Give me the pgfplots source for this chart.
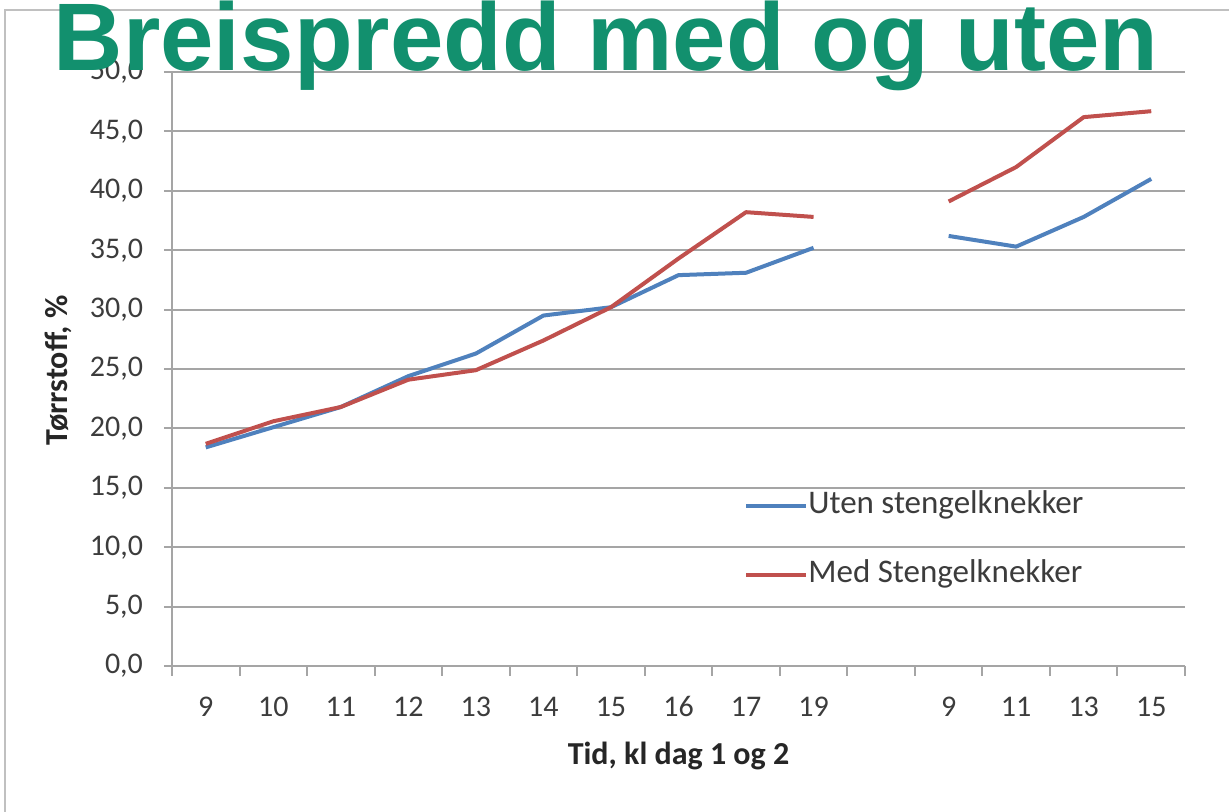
\documentclass[border=0pt]{standalone}
\usepackage{pgfplots}
\pgfplotsset{compat=1.18}
\usepackage{fontspec}
\setmainfont{Carlito}
\newfontfamily\titlefont{Liberation Sans}
\definecolor{titlegreen}{RGB}{18,144,110}
\definecolor{serblue}{RGB}{79,129,189}
\definecolor{serred}{RGB}{192,80,77}
\definecolor{gridgray}{RGB}{165,165,165}
\definecolor{labelgray}{RGB}{60,60,60}
\begin{document}
\begin{tikzpicture}[x=1pt,y=1pt]
% 1 px of the reference = 0.5pt
\path[use as bounding box] (0,0) rectangle (614.5,406);
\draw[gridgray!70, line width=0.8pt] (2.5,0) -- (2.5,401) -- (614.5,401);
\begin{axis}[
  at={(86pt,73pt)}, anchor=south west,
  scale only axis, width=506.5pt, height=297pt,
  xmin=0.5, xmax=15.5, ymin=0, ymax=50,
  ytick={0,5,10,15,20,25,30,35,40,45,50},
  xtick={1,2,3,4,5,6,7,8,9,10,12,13,14,15},
  xticklabels={9,10,11,12,13,14,15,16,17,19,9,11,13,15},
  minor xtick={0.5,1.5,2.5,3.5,4.5,5.5,6.5,7.5,8.5,9.5,10.5,11.5,12.5,13.5,14.5,15.5},
  axis x line*=bottom, axis y line*=left,
  axis line style={gridgray, line width=1pt},
  ymajorgrids, grid style={gridgray, line width=1pt},
  tick align=outside,
  major tick length=4pt, minor tick length=5pt,
  major x tick style={draw=none},
  minor x tick style={gridgray, line width=1pt},
  major y tick style={gridgray, line width=1pt},
  /pgf/number format/assume math mode=true,
  yticklabel style={/pgf/number format/fixed, /pgf/number format/fixed zerofill,
    /pgf/number format/precision=1, /pgf/number format/use comma,
    anchor=east, xshift=-7pt},
  ticklabel style={font=\fontsize{15}{15}\selectfont, text=labelgray},
  xticklabel style={anchor=base, yshift=-21.5pt},
  xlabel={Tid, kl dag 1 og 2},
  xlabel style={at={(axis description cs:0.5,-0.165)}, anchor=base, font=\fontsize{16}{16}\selectfont\bfseries, text=black!85},
  ylabel={Tørrstoff, \%},
  ylabel style={at={(axis description cs:-0.1125,0.498)}, anchor=center, rotate=0, font=\fontsize{16}{16}\selectfont\bfseries, text=black!85},
  unbounded coords=jump,
  legend style={at={(axis description cs:0.5646,0.2916)}, anchor=north west, draw=none, fill=none,
    font=\fontsize{16.5}{16.5}\selectfont, text=labelgray, row sep=21.5pt, inner sep=0pt,
    nodes={inner sep=0pt, text height=10pt, text depth=3pt}},
  legend cell align=left,
  legend image code/.code={\draw[#1, line width=2pt] (0pt,0pt) -- (30pt,0pt);},
]
\addplot[serblue, line width=2pt, line join=round] coordinates {
  (1,18.4) (2,20.1) (3,21.8) (4,24.4) (5,26.3) (6,29.5) (7,30.2) (8,32.9) (9,33.1) (10,35.2)
  (11,nan)
  (12,36.2) (13,35.3) (14,37.8) (15,41.0)};
\addlegendentry{Uten stengelknekker}
\addplot[serred, line width=2pt, line join=round] coordinates {
  (1,18.7) (2,20.6) (3,21.8) (4,24.1) (5,24.9) (6,27.4) (7,30.2) (8,34.3) (9,38.2) (10,37.8)
  (11,nan)
  (12,39.1) (13,42.0) (14,46.2) (15,46.7)};
\addlegendentry{Med Stengelknekker}
\end{axis}
\node[anchor=base, inner sep=0pt, text=titlegreen, font=\titlefont\bfseries\fontsize{48}{48}\selectfont] at (303,370.5) {Breispredd med og uten};
\end{tikzpicture}
\end{document}
